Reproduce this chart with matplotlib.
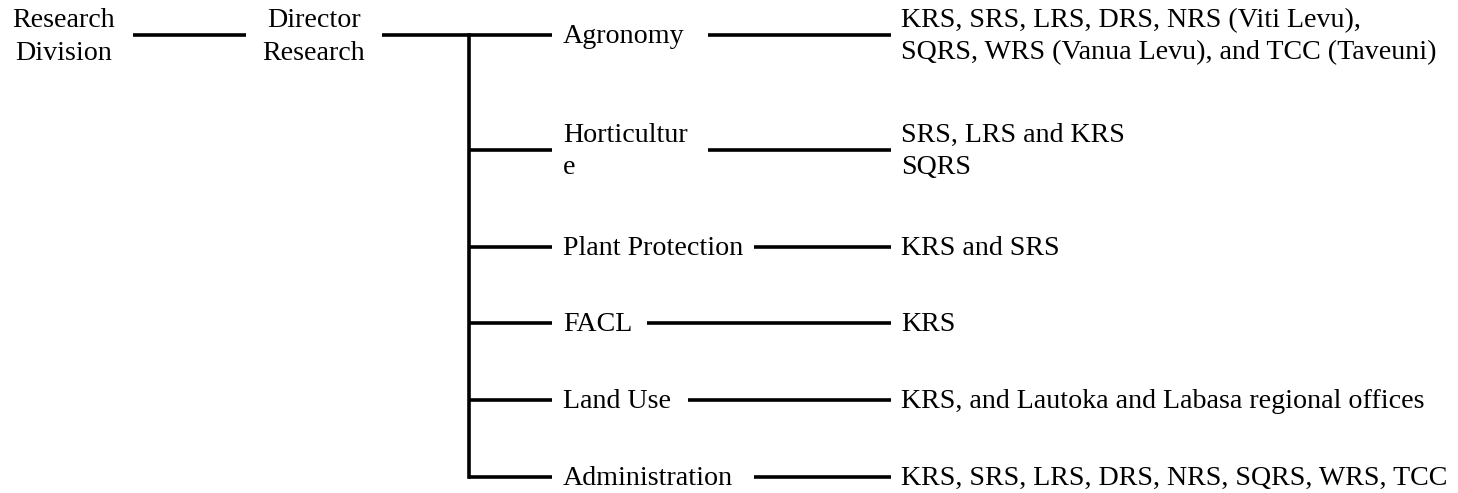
import matplotlib
matplotlib.use("Agg")
import matplotlib.pyplot as plt

# chart content
root_label = "Research\nDivision"
head_label = "Director\nResearch"
units = ["Agronomy", "Horticultur\ne", "Plant Protection", "FACL", "Land Use", "Administration"]
stations = [
    "KRS, SRS, LRS, DRS, NRS (Viti Levu),\nSQRS, WRS (Vanua Levu), and TCC (Taveuni)",
    "SRS, LRS and KRS\nSQRS",
    "KRS and SRS",
    "KRS",
    "KRS, and Lautoka and Labasa regional offices",
    "KRS, SRS, LRS, DRS, NRS, SQRS, WRS, TCC",
]

# layout (pixel coordinates, y grows downward)
row_y = [35, 150, 247, 323, 400, 477]
link_start = [708, 708, 754, 647, 688, 754]
trunk_x = 469
branch_end = 552
unit_x = 563
link_end = 891
station_x = 901
line_gap = 32.5

W, H = 1458, 493
fig = plt.figure(figsize=(W / 100, H / 100), dpi=100)
ax = fig.add_axes([0, 0, 1, 1])
ax.set_xlim(0, W)
ax.set_ylim(H, 0)
ax.axis("off")

font = dict(family=["Liberation Serif", "DejaVu Serif"], fontsize=20.2, color="black")
lw = 2.6


def put_text(x, y, s, ha="left"):
    # one baseline per line, block centred on the connector at y
    lines = s.split("\n")
    first = y + 8 if len(lines) == 1 else y - 8
    for i, ln in enumerate(lines):
        ax.text(x, first + i * line_gap, ln, ha=ha, va="baseline", **font)


def hline(x0, x1, y):
    ax.plot([x0, x1], [y, y], color="black", lw=lw, solid_capstyle="butt")


put_text(64, 35, root_label, ha="center")
hline(133, 246, 35)
put_text(314, 35, head_label, ha="center")
hline(382, branch_end, 35)
ax.plot([trunk_x, trunk_x], [row_y[0], row_y[-1]], color="black", lw=lw,
        solid_capstyle="projecting")

for name, place, y, x0 in zip(units, stations, row_y, link_start):
    if y != row_y[0]:
        hline(trunk_x, branch_end, y)
    put_text(unit_x, y, name)
    hline(x0, link_end, y)
    put_text(station_x, y, place)

fig.savefig("out.png", dpi=100, facecolor="white")
